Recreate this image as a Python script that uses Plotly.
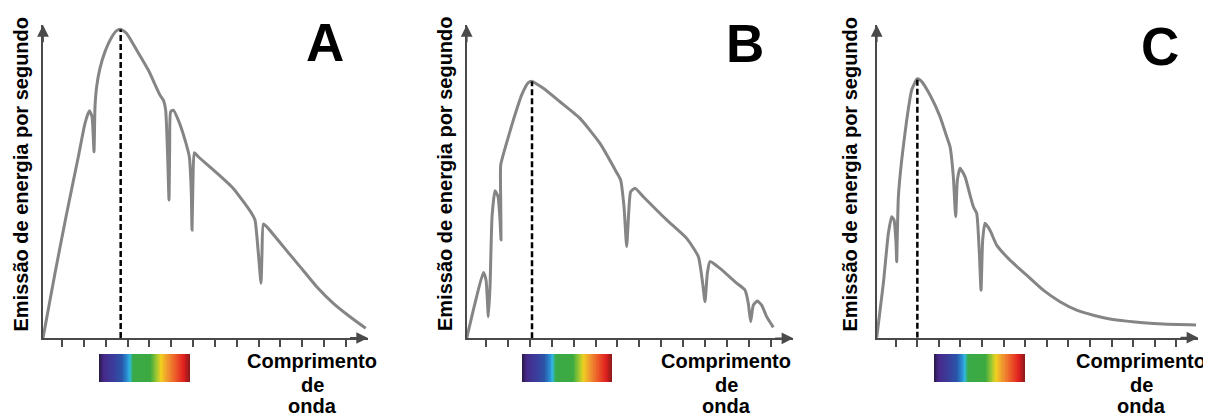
import plotly.graph_objects as go

# ---------------- data (wavelength units 0-100, emission units 0-100) ----------------
a_x = [0, 3.69, 7.28, 10.87, 12.92, 14.26, 15.08, 15.69, 16.0, 16.51, 17.54, 19.08, 21.13, 22.67,
       23.9, 25.74, 28.82, 32.41, 36.0, 37.03, 37.74, 38.36, 38.77, 38.97, 39.28, 40.1, 41.64,
       43.69, 45.02, 45.64, 45.85, 46.15, 46.56, 47.79, 52.41, 58.56, 64.21, 65.23, 66.26, 67.08,
       67.38, 67.8, 68.82, 73.95, 79.08, 84.21, 89.33, 94.46, 99.3]
a_y = [0, 20.7, 39.8, 57.9, 68.6, 72.6, 70.7, 59.5, 73.9, 80.3, 86.2, 91.5, 96.1, 98.2,
       98.6, 97.3, 92.0, 85.6, 77.6, 76.0, 72.8, 57.9, 44.1, 60.1, 72.3, 72.8, 69.6,
       63.3, 57.9, 46.2, 34.5, 50.5, 59.2, 57.9, 53.7, 47.8, 39.8, 37.7, 27.1, 17.5,
       27.1, 36.4, 35.6, 29.2, 22.8, 16.4, 11.1, 6.8, 3.1]
a_peak_x = 23.9

b_x = [0, 2.55, 5.10, 5.92, 6.63, 7.14, 7.76, 8.67, 9.59, 10.2, 10.51, 10.41, 10.41, 11.73,
       14.29, 16.84, 18.88, 20.0, 23.47, 28.57, 34.69, 40.82, 45.92, 47.14, 48.16, 48.98,
       49.59, 50.2, 51.53, 54.08, 61.22, 67.35, 70.92, 72.24, 72.96, 73.67, 74.49, 77.55,
       82.65, 85.2, 86.22, 86.94, 87.76, 88.98, 90.31, 91.84, 93.88]
b_y = [0, 11.2, 21.0, 18.6, 6.9, 16.5, 38.8, 47.1, 45.2, 37.8, 31.4, 44.1, 55.3, 60.6,
       69.7, 77.7, 81.6, 82.0, 79.8, 75.5, 70.2, 62.2, 52.9, 50.5, 42.0, 29.3,
       39.9, 46.8, 47.9, 45.2, 37.8, 31.9, 26.1, 17.6, 11.7, 20.7, 24.5, 22.3,
       17.6, 15.4, 11.2, 5.3, 10.6, 11.9, 10.6, 6.9, 3.5]
b_peak_x = 20.0

c_x = [0, 2.07, 3.63, 4.66, 5.39, 6.01, 6.22, 6.42, 6.74, 7.77, 9.33, 10.88, 12.64, 13.99,
       16.58, 19.69, 21.76, 22.8, 23.83, 24.56, 25.08, 25.91, 27.46, 29.02, 30.05, 31.09,
       31.92, 32.44, 32.95, 33.68, 35.23, 37.31, 41.45, 46.63, 51.81, 57.0, 62.18, 67.36,
       72.54, 77.72, 82.9, 89.12, 99.3]
c_y = [0, 17.4, 33.4, 38.7, 37.6, 30.2, 24.3, 33.4, 45.1, 56.8, 69.6, 79.2, 82.8, 81.9,
       77.6, 70.7, 64.3, 61.1, 51.5, 38.7, 50.4, 54.2, 51.5, 45.6, 41.9, 39.8,
       27.0, 15.2, 31.2, 36.6, 34.4, 29.6, 24.8, 20.0, 15.2, 11.5, 8.8, 7.2,
       6.0, 5.3, 4.8, 4.4, 4.1]
c_peak_x = 12.64

panel_labels = ["A", "B", "C"]
y_title = "Emissão de energia por segundo"
x_title_lines = ["Comprimento", "de", "onda"]
tick_positions = [5.85, 12.57, 19.29, 26.01, 32.73, 39.45, 46.17, 52.89, 59.61, 66.33,
                  73.05, 79.77, 86.49, 93.21]

spectrum_scale = [
    [0.0, "#2b1d4f"], [0.04, "#46298a"], [0.16, "#3a3f9c"], [0.24, "#2a55a8"],
    [0.30, "#2a8ad0"], [0.33, "#30b8e0"], [0.37, "#3aaa48"], [0.56, "#3caa40"],
    [0.63, "#a0c830"], [0.68, "#f0d020"], [0.76, "#f09030"], [0.84, "#ec5a28"],
    [0.93, "#e02020"], [1.0, "#8a1a1a"],
]

# the page body has an 8px margin; the figure is sized to fill the rest of the window
OFF = 8
W, H = 1211 - OFF, 416 - OFF

def px(x):
    return (x - OFF) / W

def py(y):
    return 1 - (y - OFF) / H

# layout geometry in window pixels: (origin_x, tip_x, origin_y, tip_y)
geom = [(43, 368, 338, 25), (466.7, 793.3, 338.3, 25), (876.7, 1198.3, 337.7, 25)]
bars = [(99, 190), (522, 612), (934, 1025)]
letter_pos = [(325, 42), (745, 43), (1160, 46)]
xtitle_pos = [312, 726, 1141]
xtitle_rows = [361, 385, 406]
ytitle_pos = [20.5, 445, 849.5]

series = [(a_x, a_y, a_peak_x), (b_x, b_y, b_peak_x), (c_x, c_y, c_peak_x)]

fig = go.Figure()
layout = dict(
    width=W, height=H, margin=dict(l=0, r=0, t=0, b=0),
    paper_bgcolor="white", plot_bgcolor="white", showlegend=False,
)
annotations = []
font_family = "Liberation Sans, Arial, sans-serif"
axis_col = "#4a4a4a"

for i, ((xs, ys, pk), (ox, tx, oy, ty)) in enumerate(zip(series, geom)):
    n = i + 1
    xa = "x" if n == 1 else f"x{n}"
    ya = "y" if n == 1 else f"y{n}"
    # emission curve
    fig.add_trace(go.Scatter(x=xs, y=ys, mode="lines", xaxis=xa, yaxis=ya,
                             line=dict(color="#858585", width=3, shape="spline", smoothing=0.5),
                             hoverinfo="skip", cliponaxis=False))
    # peak marker (dashed)
    pk_y = ys[xs.index(pk)]
    fig.add_trace(go.Scatter(x=[pk, pk], y=[0, pk_y], mode="lines", xaxis=xa, yaxis=ya,
                             line=dict(color="black", width=2.5, dash="6px,3px"),
                             hoverinfo="skip", cliponaxis=False))
    layout[f"xaxis{n if n > 1 else ''}"] = dict(
        domain=[px(ox), px(tx)], range=[0, 100], anchor=ya, showgrid=False, zeroline=False,
        showline=True, linecolor=axis_col, linewidth=2, ticks="outside", ticklen=7,
        tickwidth=2, tickcolor=axis_col, tickvals=tick_positions, showticklabels=False,
    )
    layout[f"yaxis{n if n > 1 else ''}"] = dict(
        domain=[py(oy), py(ty)], range=[0, 100], anchor=xa, showgrid=False, zeroline=False,
        showline=True, linecolor=axis_col, linewidth=2, ticks="", showticklabels=False,
    )
    # arrow heads
    annotations.append(dict(x=100, y=0, ax=94, ay=0, xref=xa, yref=ya, axref=xa, ayref=ya,
                            text="", showarrow=True, arrowhead=2, arrowsize=1.3,
                            arrowwidth=1.8, arrowcolor=axis_col, standoff=0))
    annotations.append(dict(x=0, y=100, ax=0, ay=94, xref=xa, yref=ya, axref=xa, ayref=ya,
                            text="", showarrow=True, arrowhead=2, arrowsize=1.3,
                            arrowwidth=1.8, arrowcolor=axis_col, standoff=0))
    # spectrum bar
    m = n + 3
    bx0, bx1 = bars[i]
    fig.add_trace(go.Heatmap(z=[list(range(120))], colorscale=spectrum_scale, showscale=False,
                             xaxis=f"x{m}", yaxis=f"y{m}", hoverinfo="skip", zsmooth="best"))
    layout[f"xaxis{m}"] = dict(domain=[px(bx0), px(bx1)], visible=False, anchor=f"y{m}")
    layout[f"yaxis{m}"] = dict(domain=[py(382), py(354)], visible=False, anchor=f"x{m}")
    # big letter
    lx, ly = letter_pos[i]
    annotations.append(dict(x=px(lx), y=py(ly), xref="paper", yref="paper", text=panel_labels[i],
                            showarrow=False, xanchor="center", yanchor="middle",
                            font=dict(family=font_family, size=53, color="black", weight=700)))
    # x title, one row at a time
    for line, row_y in zip(x_title_lines, xtitle_rows):
        annotations.append(dict(x=px(xtitle_pos[i]), y=py(row_y), xref="paper", yref="paper",
                                text=line, showarrow=False, xanchor="center", yanchor="middle",
                                font=dict(family=font_family, size=20, color="black", weight=700)))
    # y title
    annotations.append(dict(x=px(ytitle_pos[i]), y=py(174), xref="paper", yref="paper",
                            text=y_title, showarrow=False, textangle=-90,
                            xanchor="center", yanchor="middle",
                            font=dict(family=font_family, size=20, color="black", weight=700)))

layout["annotations"] = annotations
fig.update_layout(**layout)
fig.write_html("out.html")
